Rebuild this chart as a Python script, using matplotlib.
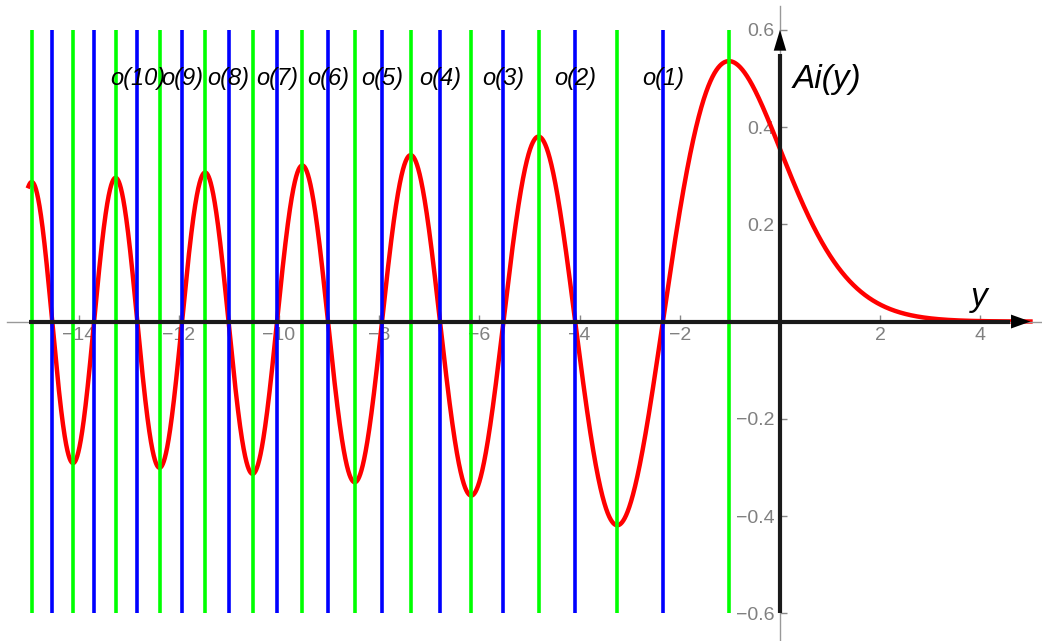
import numpy as np
import matplotlib
matplotlib.use("Agg")
import matplotlib.pyplot as plt

# zeros of Ai (blue) and zeros of Ai' (green) in the plotted range
ai_zeros = [-2.3381, -4.0879, -5.5206, -6.7867, -7.9441, -9.0227,
            -10.0402, -11.0085, -11.9360, -12.8288, -13.6915, -14.5278]
ai_prime_zeros = [-1.0188, -3.2482, -4.8201, -6.1633, -7.3722, -8.4885,
                  -9.5354, -10.5277, -11.4751, -12.3848, -13.2622, -14.1078,
                  -14.9295]
zero_labels = ["o(%d)" % k for k in range(1, 11)]

x_ticks = [-14, -12, -10, -8, -6, -4, -2, 2, 4]
x_tick_labels = ["\u221214", "\u221212", "\u221210", "\u22128", "\u22126",
                 "\u22124", "\u22122", "2", "4"]
y_ticks = [-0.6, -0.4, -0.2, 0.2, 0.4, 0.6]
y_tick_labels = ["\u22120.6", "\u22120.4", "\u22120.2", "0.2", "0.4", "0.6"]

# Airy function Ai(y) on [-15, 5]: solve Ai'' = y Ai from the values at 0
AI0, AIP0 = 0.3550280538878172, -0.2588194037928068


def airy_branch(x_end, h=0.001):
    n = int(round(abs(x_end) / h))
    step = h if x_end > 0 else -h
    xs = np.empty(n + 1)
    ys = np.empty(n + 1)
    x, y, v = 0.0, AI0, AIP0
    xs[0], ys[0] = x, y
    for i in range(1, n + 1):
        k1y, k1v = v, x * y
        k2y, k2v = v + 0.5 * step * k1v, (x + 0.5 * step) * (y + 0.5 * step * k1y)
        k3y, k3v = v + 0.5 * step * k2v, (x + 0.5 * step) * (y + 0.5 * step * k2y)
        k4y, k4v = v + step * k3v, (x + step) * (y + step * k3y)
        y += step / 6 * (k1y + 2 * k2y + 2 * k3y + k4y)
        v += step / 6 * (k1v + 2 * k2v + 2 * k3v + k4v)
        x += step
        xs[i], ys[i] = x, y
    return xs, ys


xl, yl = airy_branch(-15.0)
xr, yr = airy_branch(5.0)
y_vals = np.concatenate([xl[::-1], xr[1:]])
ai_vals = np.concatenate([yl[::-1], yr[1:]])

plt.rcParams['font.family'] = ['Liberation Sans', 'DejaVu Sans']

fig = plt.figure(figsize=(10.42, 6.41), dpi=100)
ax = fig.add_axes([7 / 1042, 0, 1 - 7 / 1042, 635 / 641])
ax.set_xlim(-15.43, 5.23)
ax.set_ylim(-0.657, 0.649)

for s in ['top', 'right']:
    ax.spines[s].set_visible(False)
for s in ['left', 'bottom']:
    ax.spines[s].set_position('zero')
    ax.spines[s].set_color('#999999')
    ax.spines[s].set_linewidth(1)

ax.set_xticks(x_ticks)
ax.set_xticklabels(x_tick_labels)
ax.set_yticks(y_ticks)
ax.set_yticklabels(y_tick_labels)
ax.tick_params(direction='in', length=5, width=1, color='#888888',
               labelcolor='#808080', labelsize=14, pad=4)

# thick axes with arrow heads
ax.plot([-15, 4.6], [0, 0], color='#1a1a1a', lw=3, zorder=3, solid_capstyle='butt')
ax.plot([0, 0], [-0.6, 0.55], color='#1a1a1a', lw=3, zorder=3, solid_capstyle='butt')
ax.annotate('', xy=(5.0, 0), xytext=(4.4, 0),
            arrowprops=dict(arrowstyle='-|>,head_length=1.4,head_width=0.5',
                            color='black', lw=0, shrinkA=0, shrinkB=0), zorder=4)
ax.annotate('', xy=(0, 0.6), xytext=(0, 0.5),
            arrowprops=dict(arrowstyle='-|>,head_length=1.5,head_width=0.45',
                            color='black', lw=0, shrinkA=0, shrinkB=0), zorder=4)

ax.plot(y_vals, ai_vals, color='#ff0000', lw=3.2, zorder=2)

ax.vlines(ai_prime_zeros, -0.6, 0.6, color='#00ff00', lw=2.6, zorder=2.5)
ax.vlines(ai_zeros, -0.6, 0.6, color='#0000ff', lw=2.6, zorder=2.5)

for xz, lab in zip(ai_zeros[:10], zero_labels):
    ax.text(xz, 0.5, lab, fontsize=17, fontstyle='italic', ha='center',
            va='center', zorder=5)

ax.text(0.26, 0.497, 'Ai(y)', fontsize=24, fontstyle='italic', ha='left', va='center')
ax.text(3.97, 0.05, 'y', fontsize=24, fontstyle='italic', ha='center', va='center')

fig.savefig('out.png', dpi=100)
